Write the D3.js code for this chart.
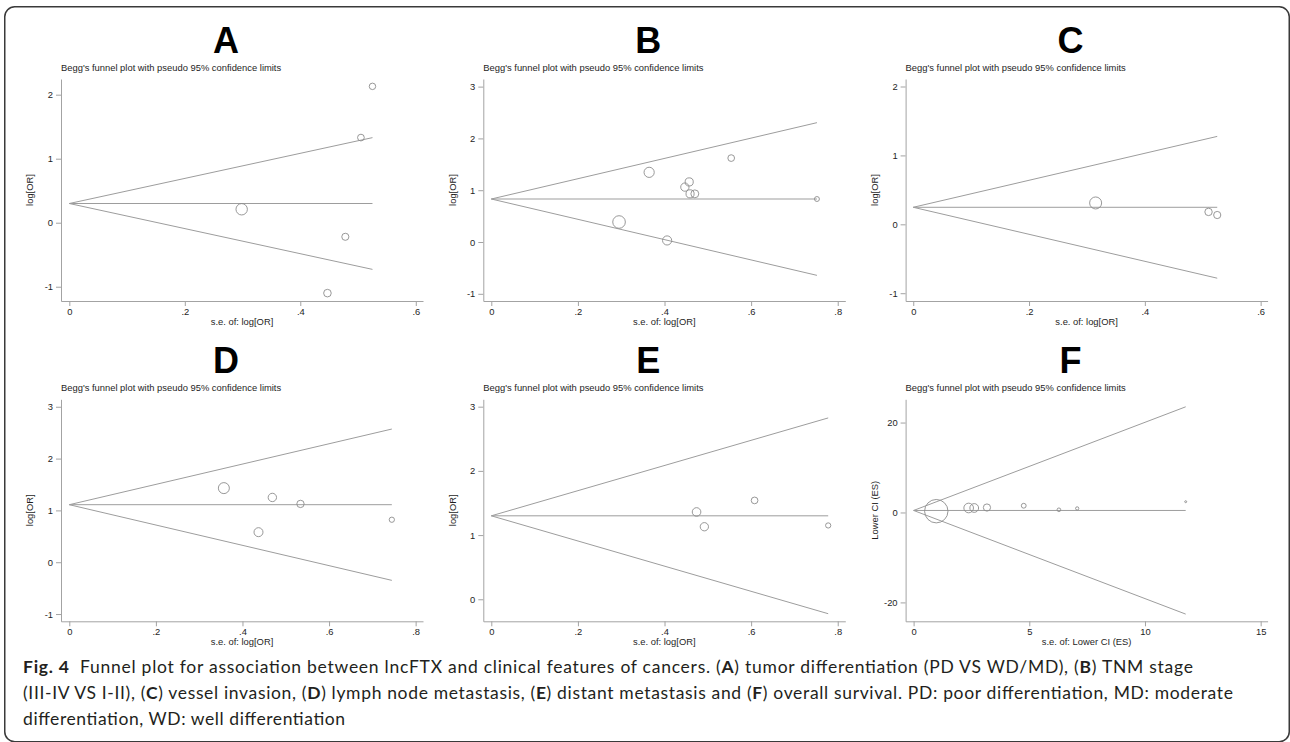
<!DOCTYPE html>
<html>
<head>
<meta charset="utf-8">
<script src="https://cdn.jsdelivr.net/npm/d3@7"></script>
<style>
  body { margin: 0; background: #fff; }
  svg { display: block; }
</style>
</head>
<body>
<div id="fig"></div>
<script>
// values
var panelLetters = ["A", "B", "C", "D", "E", "F"];

var seA  = [0.525, 0.505, 0.2985, 0.478, 0.447];
var lorA = [2.13, 1.33, 0.21, -0.22, -1.10];

var seB  = [0.554, 0.3645, 0.457, 0.447, 0.459, 0.470, 0.752, 0.295, 0.406];
var lorB = [1.62, 1.345, 1.16, 1.06, 0.93, 0.93, 0.83, 0.386, 0.03];

var seC  = [0.315, 0.510, 0.525];
var lorC = [0.31, 0.18, 0.135];

var seD  = [0.357, 0.469, 0.534, 0.437, 0.745];
var lorD = [1.43, 1.25, 1.125, 0.58, 0.82];

var seE  = [0.474, 0.492, 0.608, 0.778];
var lorE = [1.36, 1.13, 1.54, 1.15];

var seF  = [0.98, 2.38, 2.62, 3.17, 4.76, 6.28, 7.07, 11.76];
var lciF = [0.29, 1.0, 1.0, 1.1, 1.5, 0.6, 0.9, 2.4];

// pooled estimate (apex of each funnel)
var thetas = [0.30, 0.83, 0.247, 1.11, 1.30, 0.45];

var xTicks = [[0, .2, .4, .6], [0, .2, .4, .6, .8], [0, .2, .4, .6],
              [0, .2, .4, .6, .8], [0, .2, .4, .6, .8], [0, 5, 10, 15]];
var yTicks = [[-1, 0, 1, 2], [-1, 0, 1, 2, 3], [-1, 0, 1, 2],
              [-1, 0, 1, 2, 3], [0, 1, 2, 3], [-20, 0, 20]];
var xDomains = [[-0.0144, 0.6125], [-0.0185, 0.8175], [-0.0132, 0.612],
                [-0.0192, 0.817], [-0.0185, 0.8175], [-0.346, 15.3]];
var yDomains = [[-1.223, 2.245], [-1.139, 3.147], [-1.113, 2.109],
                [-1.14, 3.144], [-0.343, 3.115], [-24.2, 25.17]];
var yTitles = ["log[OR]", "log[OR]", "log[OR]", "log[OR]", "log[OR]", "Lower CI (ES)"];
var xTitles = ["s.e. of: log[OR]", "s.e. of: log[OR]", "s.e. of: log[OR]",
               "s.e. of: log[OR]", "s.e. of: log[OR]", "s.e. of: Lower CI (ES)"];
var subtitle = "Begg's funnel plot with pseudo 95% confidence limits";

var seAll = [seA, seB, seC, seD, seE, seF];
var valAll = [lorA, lorB, lorC, lorD, lorE, lciF];

var captionLines = [
  [["Fig. 4", true], ["  Funnel plot for association between lncFTX and clinical features of cancers. (", false], ["A", true],
   [") tumor differentiation (PD VS WD/MD), (", false], ["B", true], [") TNM stage", false]],
  [["(III-IV VS I-II), (", false], ["C", true], [") vessel invasion, (", false], ["D", true], [") lymph node metastasis, (", false],
   ["E", true], [") distant metastasis and (", false], ["F", true], [") overall survival. PD: poor differentiation, MD: moderate", false]],
  [["differentiation, WD: well differentiation", false]]
];

var width = 1290;
var height = 742;

// layout
var plotLeft0 = 61, colStep = 422.3;
var plotTop0 = 79, rowStep = 320.3;
var plotW = 362, plotH = 222;
var maxRadius = [5.7, 6.3, 6, 5.5, 4.3, 11.7];
var smallFont = 9.4;

var axisColor = "#a3a3a3";
var lineColor = "#9d9d9d";
var markColor = "#8c8c8c";
var textColor = "#1e1e1e";

var svg = d3.select("#fig").append("svg")
  .attr("width", width)
  .attr("height", height);

svg.append("rect")
  .attr("x", 4.75).attr("y", 6.75)
  .attr("width", 1284.5).attr("height", 735)
  .attr("rx", 10).attr("ry", 10)
  .attr("fill", "#fff")
  .attr("stroke", "#3a3a3a")
  .attr("stroke-width", 1.5);

function fmtTick(d) {
  if (d === 0) return "0";
  return String(d).replace(/^0\./, ".").replace(/^-0\./, "-.");
}

function drawPanel(i) {
  var col = i % 3, row = Math.floor(i / 3);
  var left = plotLeft0 + col * colStep;
  var top = plotTop0 + row * rowStep;

  var g = svg.append("g").attr("transform", "translate(" + left + "," + top + ")");

  var x = d3.scaleLinear().domain(xDomains[i]).range([0, plotW]);
  var y = d3.scaleLinear().domain(yDomains[i]).range([plotH, 0]);

  // panel letter and Stata subtitle
  g.append("text")
    .attr("x", 165).attr("y", -26.5)
    .attr("text-anchor", "middle")
    .attr("font-family", "Liberation Sans, Arial, sans-serif")
    .attr("font-weight", "bold")
    .attr("font-size", 36)
    .attr("fill", "#000")
    .text(panelLetters[i]);

  g.append("text")
    .attr("x", 0).attr("y", -8)
    .attr("font-family", "Liberation Sans, Arial, sans-serif")
    .attr("font-size", smallFont)
    .attr("fill", textColor)
    .text(subtitle);

  // axes
  var yAxis = d3.axisLeft(y).tickValues(yTicks[i]).tickFormat(fmtTick)
    .tickSize(5).tickSizeOuter(0).tickPadding(3);
  var xAxis = d3.axisBottom(x).tickValues(xTicks[i]).tickFormat(fmtTick)
    .tickSize(5).tickSizeOuter(0).tickPadding(2.3);

  var ya = g.append("g").call(yAxis);
  var xa = g.append("g").attr("transform", "translate(0," + plotH + ")").call(xAxis);
  [ya, xa].forEach(function(a) {
    a.select(".domain").attr("stroke", axisColor);
    a.selectAll(".tick line").attr("stroke", axisColor);
    a.selectAll(".tick text")
      .attr("fill", textColor)
      .attr("font-family", "Liberation Sans, Arial, sans-serif")
      .attr("font-size", smallFont);
  });

  g.append("text")
    .attr("transform", "translate(-31," + (plotH / 2) + ") rotate(-90)")
    .attr("text-anchor", "middle")
    .attr("dy", "0.35em")
    .attr("font-family", "Liberation Sans, Arial, sans-serif")
    .attr("font-size", smallFont)
    .attr("fill", textColor)
    .text(yTitles[i]);

  g.append("text")
    .attr("x", plotW / 2).attr("y", plotH + 23.8)
    .attr("text-anchor", "middle")
    .attr("font-family", "Liberation Sans, Arial, sans-serif")
    .attr("font-size", smallFont)
    .attr("fill", textColor)
    .text(xTitles[i]);

  // funnel: pooled line and pseudo 95% limits
  var se = seAll[i], vals = valAll[i], theta = thetas[i];
  var seMax = d3.max(se);
  var funnel = [
    [[0, theta], [seMax, theta]],
    [[0, theta], [seMax, theta + 1.96 * seMax]],
    [[0, theta], [seMax, theta - 1.96 * seMax]]
  ];
  var line = d3.line().x(function(d) { return x(d[0]); }).y(function(d) { return y(d[1]); });
  g.selectAll("path.funnel")
    .data(funnel)
    .enter().append("path")
    .attr("class", "funnel")
    .attr("d", line)
    .attr("fill", "none")
    .attr("stroke", lineColor)
    .attr("stroke-width", 1);

  // studies, marker area by inverse variance
  var pts = se.map(function(s, k) { return {se: s, v: vals[k], w: 1 / (s * s)}; });
  var r = d3.scaleSqrt().domain([0, d3.max(pts, function(d) { return d.w; })]).range([0, maxRadius[i]]);
  g.selectAll("circle")
    .data(pts)
    .enter().append("circle")
    .attr("cx", function(d) { return x(d.se); })
    .attr("cy", function(d) { return y(d.v); })
    .attr("r", function(d) { return r(d.w); })
    .attr("fill", "none")
    .attr("stroke", markColor)
    .attr("stroke-width", 0.9);
}

for (var i = 0; i < 6; i++) drawPanel(i);

// figure caption
var capWidths = [1170, 1210, 322];
captionLines.forEach(function(segs, li) {
  var t = svg.append("text")
    .attr("x", 23)
    .attr("y", 673.3 + li * 25.8)
    .attr("font-family", "Lato, 'Open Sans', sans-serif")
    .attr("font-size", 17.5)
    .attr("fill", "#231f20")
    .attr("textLength", capWidths[li])
    .attr("lengthAdjust", "spacing")
    .attr("xml:space", "preserve")
    .style("white-space", "pre");
  segs.forEach(function(s) {
    t.append("tspan")
      .attr("font-weight", s[1] ? "bold" : "normal")
      .text(s[0]);
  });
});
</script>
</body>
</html>
